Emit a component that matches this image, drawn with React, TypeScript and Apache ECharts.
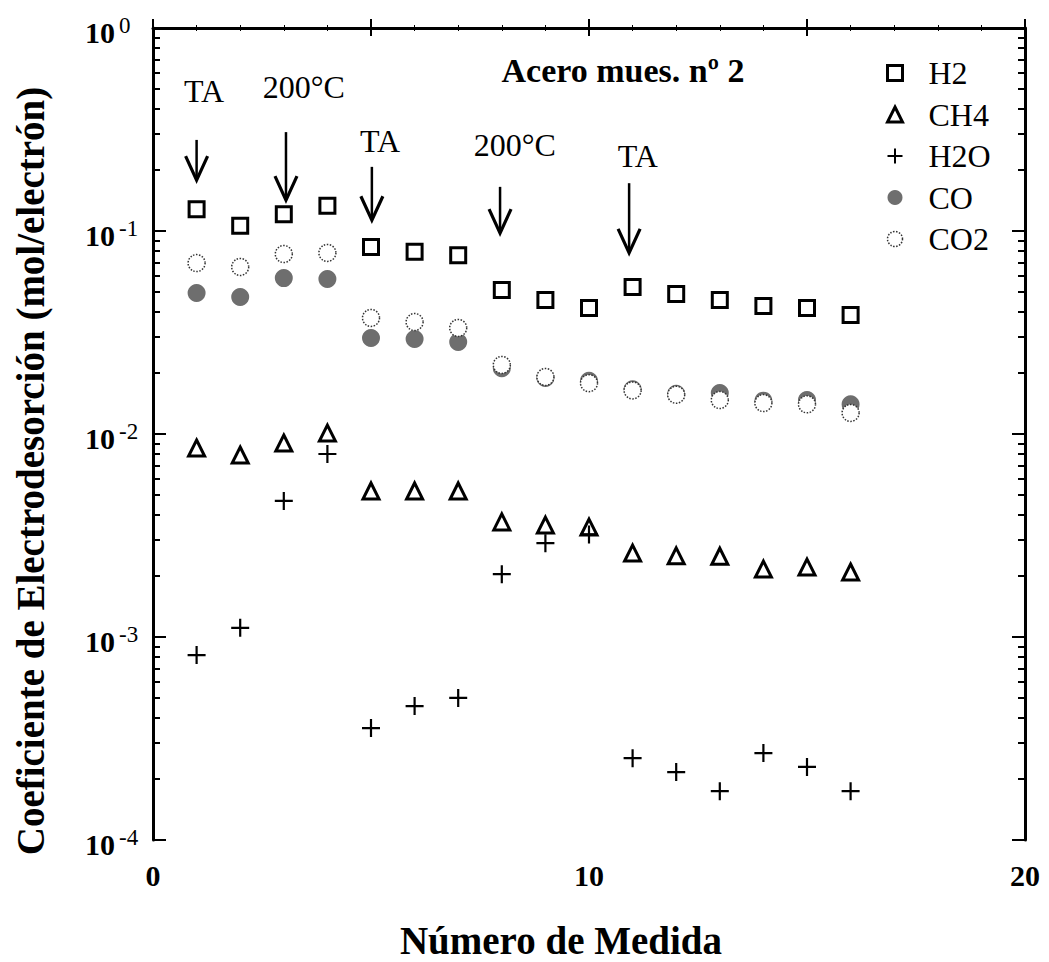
import React, { useEffect, useRef } from "react";
import * as echarts from "echarts";

const FONT = "'Liberation Serif', 'Times New Roman', serif";

// Measurement numbers (x)
const measure = [1, 2, 3, 4, 5, 6, 7, 8, 9, 10, 11, 12, 13, 14, 15, 16];

// Electrodesorption coefficient (mol/electrón)
const h2 = [0.128, 0.106, 0.121, 0.133, 0.0835, 0.079, 0.076, 0.0512, 0.0457, 0.0417, 0.053, 0.049, 0.0457, 0.0427, 0.0417, 0.0386];
const ch4 = [0.00853, 0.00788, 0.00903, 0.0101, 0.00524, 0.00524, 0.00524, 0.00369, 0.00356, 0.00348, 0.00259, 0.00251, 0.0025, 0.00216, 0.00221, 0.00209];
const h2o = [0.000815, 0.00111, 0.00468, 0.00797, 0.000356, 0.000457, 0.000501, 0.00204, 0.0029, 0.0032, 0.000253, 0.000216, 0.000174, 0.000268, 0.000229, 0.000174];
const co = [0.0495, 0.0473, 0.0586, 0.058, 0.0297, 0.0294, 0.0284, 0.0211, 0.0189, 0.0183, 0.0166, 0.0158, 0.0159, 0.0146, 0.0147, 0.014];
const co2 = [0.0695, 0.0665, 0.077, 0.078, 0.0373, 0.0356, 0.0333, 0.0219, 0.0191, 0.0178, 0.0164, 0.0156, 0.0147, 0.0142, 0.014, 0.0127];

// Annotation arrows (data coordinates)
const annLabel = ["TA", "200°C", "TA", "200°C", "TA"];
const annX = [1, 3.05, 5.02, 7.96, 10.92];
const annTop = [0.281, 0.307, 0.207, 0.165, 0.172];
const annTip = [0.178, 0.142, 0.113, 0.0977, 0.078];
const annTextX = [1.17, 3.46, 5.21, 8.3, 11.12];
const annTextY = [0.478, 0.5, 0.271, 0.259, 0.229];

const xTicks = { min: 0, max: 20, interval: 5 };
const yDecades = [-4, -3, -2, -1, 0];
const minorMultipliers = [2, 3, 4, 5, 6, 7, 8, 9];

const crossPath = "path://M0,5L10,5M5,0L5,10";

export default function App() {
  const ref = useRef<HTMLDivElement>(null);

  useEffect(() => {
    if (!ref.current) return;
    const chart = echarts.init(ref.current, undefined, { renderer: "svg" });

    // minor tick positions, expressed as exponents for auxiliary linear axes
    const minorExp: number[] = [];
    for (let d = yDecades[0]; d < yDecades[yDecades.length - 1]; d++) {
      minorMultipliers.forEach((k) => minorExp.push(d + Math.log10(k)));
    }

    const pairs = (arr: number[]) => measure.map((m, i) => [m, arr[i]]);

    const baseY = {
      type: "log" as const,
      logBase: 10,
      min: Math.pow(10, yDecades[0]),
      max: Math.pow(10, yDecades[yDecades.length - 1]),
      splitLine: { show: false },
    };
    const minorY = {
      type: "value" as const,
      min: yDecades[0],
      max: yDecades[yDecades.length - 1],
      splitLine: { show: false },
      axisLine: { show: false },
      axisLabel: { show: false },
    };

    const option: any = {
      animation: false,
      backgroundColor: "#fff",
      grid: { left: 153, top: 28, right: 24, bottom: 122, containLabel: false },
      xAxis: [
        {
          type: "value",
          ...xTicks,
          position: "bottom",
          axisLine: { show: true, lineStyle: { color: "#000", width: 3 } },
          axisTick: { show: true, inside: true, length: 9, lineStyle: { color: "#000", width: 2 } },
          minorTick: { show: true, splitNumber: 5, length: 3, lineStyle: { color: "#000", width: 1 } },
          splitLine: { show: false },
          axisLabel: {
            margin: 20,
            color: "#000",
            fontFamily: FONT,
            fontWeight: "bold",
            fontSize: 30,
            formatter: (v: number) => (v % 10 === 0 ? String(v) : ""),
          },
        },
        {
          type: "value",
          ...xTicks,
          position: "top",
          axisLine: { show: true, lineStyle: { color: "#000", width: 2 } },
          axisTick: { show: true, inside: true, length: 8, lineStyle: { color: "#000", width: 2 } },
          minorTick: { show: true, splitNumber: 5, length: 3, lineStyle: { color: "#000", width: 1 } },
          splitLine: { show: false },
          axisLabel: { show: false },
        },
      ],
      yAxis: [
        {
          ...baseY,
          position: "left",
          axisLine: { show: true, lineStyle: { color: "#000", width: 3 } },
          axisTick: { show: true, inside: true, length: 13, lineStyle: { color: "#000", width: 2 } },
          axisLabel: {
            align: "left",
            margin: 68,
            padding: [8, 0, 0, 0],
            formatter: (v: number) => `{b|10}{s|${Math.round(Math.log10(v))}}`,
            rich: {
              b: { fontFamily: FONT, fontWeight: "bold", fontSize: 30, lineHeight: 36, color: "#000" },
              s: { fontFamily: FONT, fontSize: 23, lineHeight: 22, verticalAlign: "top", color: "#000", padding: [0, 0, 0, 4] },
            },
          },
        },
        {
          ...minorY,
          position: "left",
          axisTick: { show: true, inside: true, length: 7, customValues: minorExp, lineStyle: { color: "#000", width: 2 } },
        },
        {
          ...baseY,
          position: "right",
          axisLine: { show: true, lineStyle: { color: "#000", width: 3 } },
          axisTick: { show: true, inside: true, length: 13, lineStyle: { color: "#000", width: 2 } },
          axisLabel: { show: false },
        },
        {
          ...minorY,
          position: "right",
          axisTick: { show: true, inside: true, length: 7, customValues: minorExp, lineStyle: { color: "#000", width: 2 } },
        },
      ],
      legend: {
        orient: "vertical",
        left: 880,
        top: 52,
        itemWidth: 15,
        itemHeight: 15,
        itemGap: 9.5,
        selectedMode: false,
        textStyle: { fontFamily: FONT, fontSize: 32, lineHeight: 32, color: "#000", padding: [0, 0, 0, 21] },
        data: [
          { name: "H2", icon: "rect", itemStyle: { color: "transparent", borderColor: "#000", borderWidth: 3 } },
          { name: "CH4", icon: "triangle", itemStyle: { color: "transparent", borderColor: "#000", borderWidth: 3 } },
          { name: "H2O", icon: crossPath, itemStyle: { color: "none", borderColor: "#000", borderWidth: 2 } },
          { name: "CO", icon: "circle", itemStyle: { color: "#6e6e6e", borderColor: "#6e6e6e", borderWidth: 0 } },
          { name: "CO2", icon: "circle", itemStyle: { color: "#fff", borderColor: "#333", borderWidth: 1.5, borderType: "dotted" } },
        ],
      },
      series: [
        {
          name: "H2",
          type: "scatter",
          symbol: "rect",
          symbolSize: 15,
          data: pairs(h2),
          itemStyle: { color: "transparent", borderColor: "#000", borderWidth: 3, opacity: 1 },
        },
        {
          name: "CH4",
          type: "scatter",
          symbol: "triangle",
          symbolSize: 16,
          data: pairs(ch4),
          itemStyle: { color: "transparent", borderColor: "#000", borderWidth: 3, opacity: 1 },
        },
        {
          name: "H2O",
          type: "scatter",
          symbol: crossPath,
          symbolSize: 18,
          data: pairs(h2o),
          itemStyle: { color: "none", borderColor: "#000", borderWidth: 2.2, opacity: 1 },
        },
        {
          name: "CO",
          type: "scatter",
          symbol: "circle",
          symbolSize: 18,
          data: pairs(co),
          itemStyle: { color: "#6e6e6e", borderWidth: 0, opacity: 1 },
        },
        {
          name: "CO2",
          type: "scatter",
          symbol: "circle",
          symbolSize: 17,
          data: pairs(co2),
          itemStyle: { color: "#fff", borderColor: "#333", borderWidth: 1.5, borderType: "dotted", opacity: 1 },
        },
      ],
    };

    chart.setOption(option);

    const graphics: any[] = [];
    annX.forEach((x, i) => {
      const top = chart.convertToPixel({ seriesIndex: 0 }, [x, annTop[i]]) as number[];
      const tip = chart.convertToPixel({ seriesIndex: 0 }, [x, annTip[i]]) as number[];
      const txt = chart.convertToPixel({ seriesIndex: 0 }, [annTextX[i], annTextY[i]]) as number[];
      graphics.push({
        type: "line",
        shape: { x1: top[0], y1: top[1], x2: tip[0], y2: tip[1] - 2 },
        style: { stroke: "#000", lineWidth: 2.5 },
        silent: true,
      });
      graphics.push({
        type: "polyline",
        shape: { points: [[tip[0] - 11, tip[1] - 24], [tip[0], tip[1]], [tip[0] + 11, tip[1] - 24]] },
        style: { stroke: "#000", lineWidth: 3.2, fill: "none", lineJoin: "miter" },
        silent: true,
      });
      graphics.push({
        type: "text",
        x: txt[0],
        y: txt[1] - 2,
        style: {
          text: annLabel[i],
          fontFamily: FONT,
          fontSize: 32,
          fill: "#000",
          textAlign: "center",
          textVerticalAlign: "middle",
        },
        silent: true,
      });
    });

    graphics.push({
      type: "text",
      x: 623,
      y: 70,
      style: {
        text: "Acero mues. nº 2",
        fontFamily: FONT,
        fontWeight: "bold",
        fontSize: 34,
        fill: "#000",
        textAlign: "center",
        textVerticalAlign: "middle",
      },
    });
    graphics.push({
      type: "text",
      x: 30,
      y: 471,
      rotation: Math.PI / 2,
      style: {
        text: "Coeficiente de Electrodesorción (mol/electrón)",
        fontFamily: FONT,
        fontWeight: "bold",
        fontSize: 39,
        fill: "#000",
        textAlign: "center",
        textVerticalAlign: "middle",
      },
    });
    graphics.push({
      type: "text",
      x: 561,
      y: 940,
      style: {
        text: "Número de Medida",
        fontFamily: FONT,
        fontWeight: "bold",
        fontSize: 39,
        fill: "#000",
        textAlign: "center",
        textVerticalAlign: "middle",
      },
    });

    chart.setOption({ graphic: graphics });

    return () => chart.dispose();
  }, []);

  return (
    <div
      ref={ref}
      style={{ position: "absolute", left: 0, top: 0, width: 1049, height: 962, background: "#fff" }}
    />
  );
}
